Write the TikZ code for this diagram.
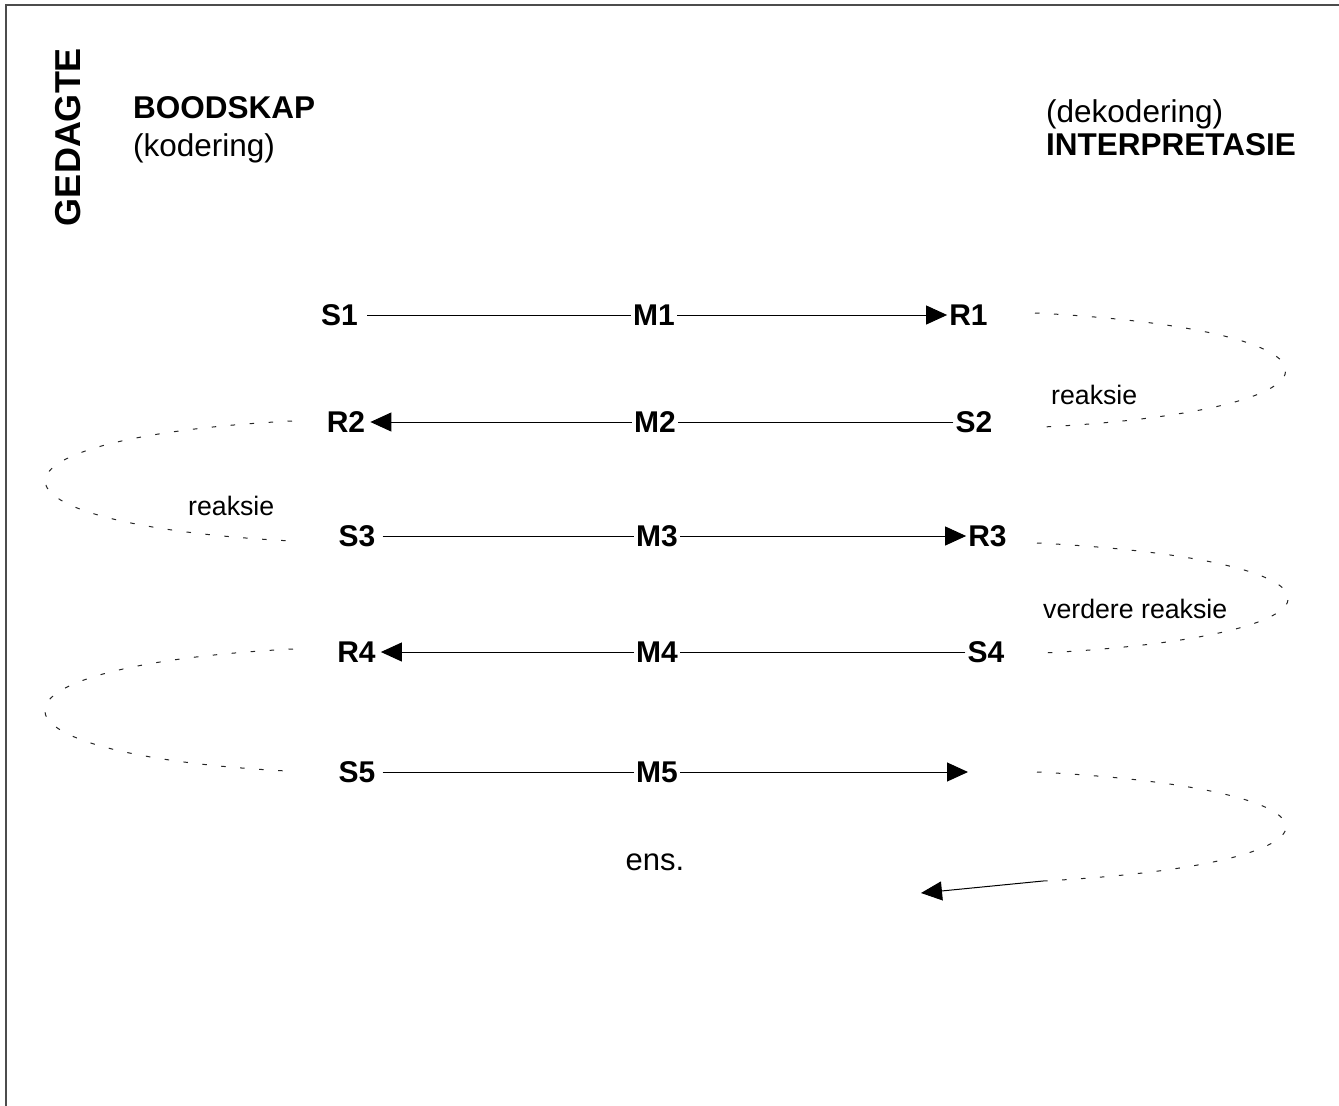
\documentclass[tikz,border=0pt]{standalone}
\usepackage{fontspec}
\setmainfont{Liberation Sans}
\usetikzlibrary{arrows.meta}
\tikzset{
  lbl/.style={font=\fontsize{30}{36}\selectfont\bfseries, inner sep=2pt},
  hdr/.style={font=\fontsize{31.5}{38}\selectfont, inner sep=0pt, anchor=base west},
  hdrb/.style={font=\fontsize{31.5}{38}\selectfont\bfseries, inner sep=0pt, anchor=base west},
  small/.style={font=\fontsize{26.7}{32}\selectfont, inner sep=0pt, anchor=base west},
  conn/.style={line width=1pt, black},
  tip/.style={-{Triangle[length=21pt,width=19pt]}},
  loop/.style={line width=1pt, black!85, dash pattern=on 4.5pt off 14.5pt},
}
\begin{document}
\begin{tikzpicture}[x=1pt,y=-1pt]
\useasboundingbox (0,0) rectangle (1339,1106);
\fill[white] (0,0) rectangle (1339,1106);
% frame
\draw[line width=1.5pt, black!70] (6,1106) -- (6,5) -- (1339,5);

% headers
\node[font=\fontsize{36}{42}\selectfont\bfseries, rotate=90, inner sep=0pt] (ged) at (68,137) {GEDAGTE};
\node[hdrb] (boo) at (133,118) {BOODSKAP};
\node[hdr] (kod) at (133,156) {(kodering)};
\node[hdr] (dek) at (1046,122) {(dekodering)};
\node[hdrb] (int) at (1046,155) {INTERPRETASIE};

% row labels
\node[lbl] (S1) at (339.5,315) {S1};
\node[lbl] (M1) at (654,315) {M1};
\node[lbl] (R1) at (968.5,315) {R1};
\node[lbl] (R2) at (346,422) {R2};
\node[lbl] (M2) at (655,422) {M2};
\node[lbl] (S2) at (974,422) {S2};
\node[lbl] (S3) at (357,536) {S3};
\node[lbl] (M3) at (657,536) {M3};
\node[lbl] (R3) at (987.5,536) {R3};
\node[lbl] (R4) at (356.5,652) {R4};
\node[lbl] (M4) at (657,652) {M4};
\node[lbl] (S4) at (986,652) {S4};
\node[lbl] (S5) at (357,772) {S5};
\node[lbl] (M5) at (657,772) {M5};
\coordinate (E5) at (968,772);

% connectors
\draw[conn, shorten <=7pt] (S1) -- (M1);
\draw[conn, tip] (M1) -- (R1);
\draw[conn, tip, shorten >=3pt] (M2) -- (R2);
\draw[conn] (S2) -- (M2);
\draw[conn, shorten <=5pt] (S3) -- (M3);
\draw[conn, tip] (M3) -- (R3);
\draw[conn, tip, shorten >=3pt] (M4) -- (R4);
\draw[conn] (S4) -- (M4);
\draw[conn, shorten <=5pt] (S5) -- (M5);
\draw[conn, tip] (M5) -- (E5);

% reaction loops
\coordinate (a1) at (1035,313); \coordinate (b1) at (1043,427);
\coordinate (a2) at (292,421);  \coordinate (b2) at (292,541);
\coordinate (a3) at (1037,543); \coordinate (b3) at (1043,653);
\coordinate (a4) at (293,649);  \coordinate (b4) at (287,771);
\coordinate (a5) at (1037,772); \coordinate (b5) at (1043,881);
\coordinate (e6) at (921,893);
\draw[loop] (a1) .. controls (1368,330) and (1368,410) .. (b1);
\draw[loop] (a2) .. controls (-37,438) and (-37,524) .. (b2);
\draw[loop] (a3) .. controls (1371,560) and (1371,636) .. (b3);
\draw[loop] (a4) .. controls (-37,666) and (-37,754) .. (b4);
\draw[loop] (a5) .. controls (1368,789) and (1368,864) .. (b5);
\draw[conn, tip] (b5) -- (e6);

% loop labels
\node[small] (rk1) at (1051,404) {reaksie};
\node[small] (rk2) at (188,515) {reaksie};
\node[small] (rk3) at (1043,618) {verdere reaksie};
\node[font=\fontsize{31}{37}\selectfont, inner sep=0pt] (ens) at (655,862) {ens.};
\end{tikzpicture}
\end{document}
